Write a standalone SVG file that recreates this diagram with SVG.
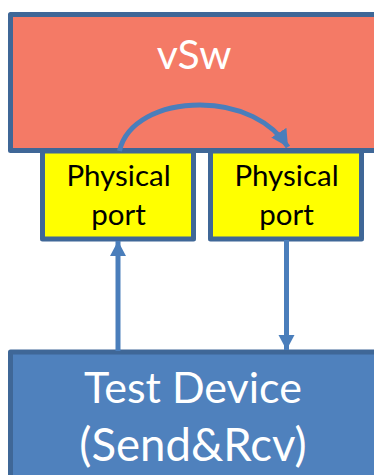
<svg xmlns="http://www.w3.org/2000/svg" width="374" height="475" viewBox="0 0 374 475">
<style>
.box{stroke:#3f6797;stroke-width:5;stroke-linejoin:round}
.port{fill:#ffff00}
text{font-family:"Lato","Open Sans","Liberation Sans",sans-serif;text-anchor:middle}
.w{fill:#fff;font-size:43px}
.k{fill:#000;font-size:29.500px}
.c{fill:none;stroke:#4a7ebb;stroke-width:5}
</style>
<defs>
<marker id="a" markerUnits="userSpaceOnUse" markerWidth="17" markerHeight="17" refX="15" refY="8" orient="auto"><path d="M0 0L15 8L0 16z" fill="#4a7ebb"/></marker>
<marker id="b" markerUnits="userSpaceOnUse" markerWidth="20" markerHeight="20" refX="17" refY="9" orient="auto"><path d="M0 0L17 9L0 18z" fill="#4a7ebb"/></marker>
</defs>
<rect width="374" height="475" fill="#fff"/>
<g id="vsw"><rect class="box" x="10.500" y="14.500" width="380" height="136" fill="#f47a66"/><text class="w" x="194" y="69" style="font-size:41px">vSw</text></g>
<g id="port1"><rect class="box port" x="42.500" y="151" width="151" height="88"/><text class="k" x="118.500" y="186">Physical</text><text class="k" x="118.500" y="225">port</text></g>
<g id="port2"><rect class="box port" x="210.500" y="151" width="151" height="88"/><text class="k" x="286.500" y="186">Physical</text><text class="k" x="286.500" y="225">port</text></g>
<g id="device"><rect class="box" x="10.500" y="352" width="380" height="140" fill="#4f81bd"/><text class="w" x="193" y="403">Test Device</text><text class="w" x="193" y="461" style="font-size:45.500px">(Send&amp;Rcv)</text></g>
<g id="connectors">
<path class="c" d="M119.500 151C126 122 160 105 200 105C240 105 272 122 288 147" marker-end="url(#b)"/>
<path class="c" d="M118 351V241" marker-end="url(#a)"/>
<path class="c" d="M286.500 240V350" marker-end="url(#a)"/>
</g>
</svg>
